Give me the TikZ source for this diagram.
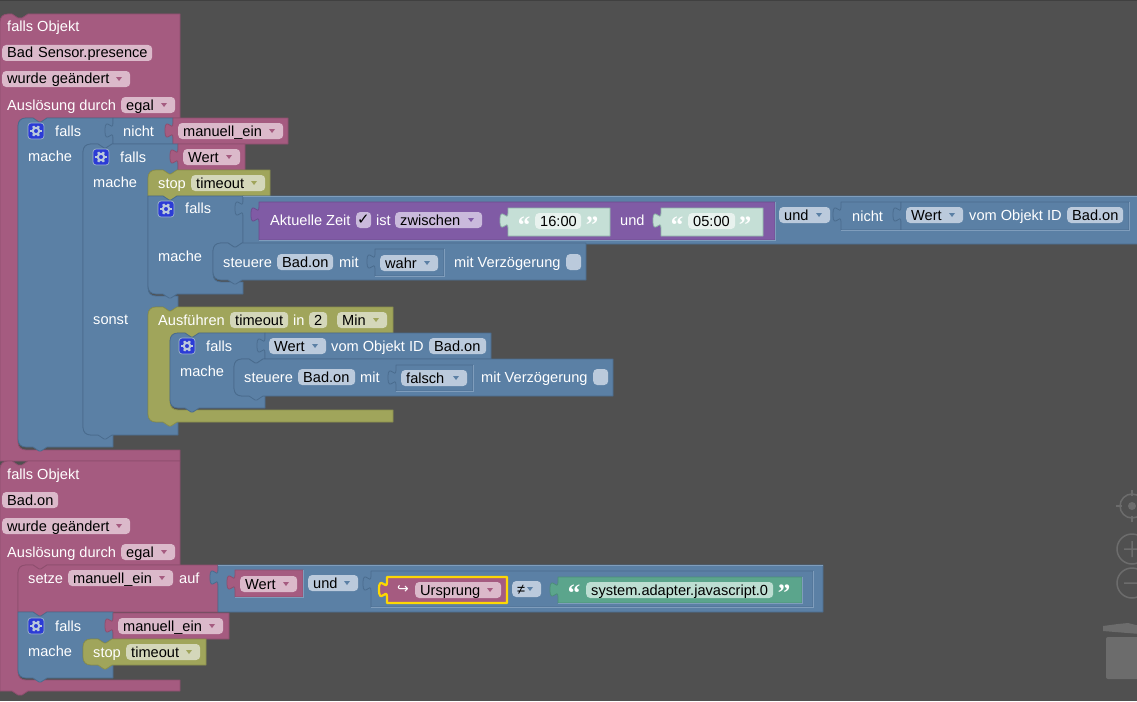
\documentclass[tikz,border=0pt]{standalone}
\usepackage{fontspec}
\setmainfont{Liberation Sans}
\newfontfamily\djv{DejaVu Sans}
\newfontfamily\qfont{Liberation Serif}
\definecolor{bgc}{HTML}{505050}
\definecolor{pb}{HTML}{A55B80}\definecolor{pd}{HTML}{8E4E6E}\definecolor{pf}{HTML}{DBB9CA}
\definecolor{bb}{HTML}{5B80A5}\definecolor{bd}{HTML}{4A6C8E}\definecolor{bf}{HTML}{BBCADC}\definecolor{bl}{HTML}{7F9DBC}
\definecolor{ob}{HTML}{A0A55B}\definecolor{od}{HTML}{8A8F4C}\definecolor{of}{HTML}{D4D7BA}
\definecolor{vb}{HTML}{805BA5}\definecolor{vd}{HTML}{6C4C8E}\definecolor{vf}{HTML}{CABADC}
\definecolor{gb}{HTML}{5BA58C}\definecolor{gd}{HTML}{4C8E78}\definecolor{gf}{HTML}{BDDED2}
\definecolor{sb}{HTML}{C5DFD6}\definecolor{sf}{HTML}{E8F2EE}\definecolor{sd}{HTML}{8FB5A8}
\definecolor{wid}{HTML}{6C6C6C}\definecolor{gearbg}{HTML}{2B3BD6}
\newcount\nn
\def\fs{\fontsize{14.6pt}{16pt}\selectfont}
\tikzset{
  bkp/.style={fill=pb,draw=pd,line width=.8pt,line join=round},
  bkb/.style={fill=bb,draw=bd,line width=.8pt,line join=round},
  bko/.style={fill=ob,draw=od,line width=.8pt,line join=round},
  bkv/.style={fill=vb,draw=vd,line width=.8pt,line join=round},
  bkg/.style={fill=gb,draw=gd,line width=.8pt,line join=round},
  bks/.style={fill=sb,draw=sd,line width=.8pt,line join=round},
  lbl/.style={anchor=base west,inner sep=0pt,text=white,font=\fs},
  pillbox/.style={anchor=west,rounded corners=4pt,inner xsep=5pt,inner ysep=0pt,
     minimum height=16pt,text height=12pt,text depth=2pt,align=left,text=black,font=\fs},
}
\def\PT#1#2{({#1},{#2+8}) .. controls ({#1},{#2+3}) and ({#1+3},{#2}) .. ({#1+8},{#2}) -- ({#1+15},{#2}) -- ({#1+21},{#2+4}) -- ({#1+23},{#2+4}) -- ({#1+29},{#2})}
\def\PTs#1#2{({#1},{#2}) -- ({#1+15},{#2}) -- ({#1+21},{#2+4}) -- ({#1+23},{#2+4}) -- ({#1+29},{#2})}
\def\PB#1#2{-- ({#1+29},{#2}) -- ({#1+23},{#2+4}) -- ({#1+21},{#2+4}) -- ({#1+15},{#2}) -- ({#1+8},{#2}) .. controls ({#1+3},{#2}) and ({#1},{#2-3}) .. ({#1},{#2-8})}
\def\PBs#1#2{-- ({#1+29},{#2}) -- ({#1+23},{#2+4}) -- ({#1+21},{#2+4}) -- ({#1+15},{#2}) -- ({#1},{#2})}
\def\In#1#2#3{-- ({#1+29},{#2}) -- ({#1+23},{#2+4}) -- ({#1+21},{#2+4}) -- ({#1+15},{#2}) -- ({#1+8},{#2}) .. controls ({#1+3},{#2}) and ({#1},{#2+3}) .. ({#1},{#2+8}) -- ({#1},{#3-8}) .. controls ({#1},{#3-3}) and ({#1+3},{#3}) .. ({#1+8},{#3})}
\def\Hat#1{(0,{#1+8}) .. controls (0,{#1+3}) and (3,{#1}) .. (8,{#1}) -- (12,{#1}) -- (18,{#1+4}) -- (22,{#1+4}) -- (28,{#1})}
\def\Vl#1#2#3#4{({#1},{#2}) -- ({#3},{#2}) -- ({#3},{#4}) -- ({#1},{#4}) -- ({#1},{#2+20}) .. controls ({#1},{#2+10}) and ({#1-8},{#2+28}) .. ({#1-8},{#2+12.5}) .. controls ({#1-8},{#2-3}) and ({#1},{#2+15}) .. ({#1},{#2+5}) -- cycle}
% light lower and right rim of a block seated in a blue slot
\def\Sl#1#2#3#4{\draw[bl,line width=.9pt] (#1,#4) -- (#3,#4) -- (#3,#2);}
% label: x, centre y, text
\def\Lb#1#2#3{\global\advance\nn by 1 \node[lbl] (l\the\nn) at ({#1},{#2+5}) {#3};}
% field: x0,x1,yc,text,fill,arrow colour (empty = no arrow)
\def\Fd#1#2#3#4#5#6{\global\advance\nn by 1
  \pgfmathsetmacro\fw{#2-#1}\pgfmathsetmacro\ft{#2-#1-10}
  \node[pillbox,fill=#5,minimum width=\fw pt,text width=\ft pt] (f\the\nn) at ({#1},{#3}) {\mbox{#4}};
  \if\relax\detokenize{#6}\relax\else
  \fill[#6] ({#2-14},{#3-2}) -- ({#2-8},{#3-2}) -- ({#2-11},{#3+2}) -- cycle;\fi}
\def\Gr#1#2{\global\advance\nn by 1
  \node[draw=bf!70!bb,fill=gearbg,rounded corners=3pt,minimum size=16pt,inner sep=0pt,line width=.7pt] (g\the\nn) at ({#1},{#2}) {};
  \foreach \a in {0,60,...,300}{\draw[line width=2.4pt,bf] ($({#1},{#2})+(\a:3pt)$) -- ($({#1},{#2})+(\a:5.6pt)$);}
  \draw[bf,line width=2pt] ({#1},{#2}) circle (3.2pt);}
\def\Qt#1#2#3{\global\advance\nn by 1
  \node[anchor=center,inner sep=0pt,text=white,font=\qfont\bfseries\fontsize{25pt}{25pt}\selectfont] (q\the\nn) at ({#1},{#2+7}) {#3};}
\usetikzlibrary{calc}
\begin{document}
\begin{tikzpicture}[x=1pt,y=-1pt]
\useasboundingbox (0,0) rectangle (1137,701);
\fill[bgc] (0,0) rectangle (1137,701);
\fill[black!75] (0,0) rectangle (1137,1);
% --- first event block
\path[bkp] \Hat{14} -- (180,14) -- (180,118) \In{18}{118}{450} -- (180,450) -- (180,461) -- (0,461) -- cycle;
\Lb{7}{27}{falls Objekt}
\Fd{2}{152}{53}{Bad Sensor.presence}{pf}{}
\Fd{2}{130}{79}{wurde geändert}{pf}{pb}
\Lb{7}{105}{Auslösung durch}
\Fd{121}{175}{105}{egal}{pf}{pb}
% A
\path[bkb] \PT{18}{118} -- (113,118) -- (113,144) \In{83}{144}{435} -- (113,435) -- (113,447) \PB{18}{447} -- cycle;
\Gr{36}{131}
\Lb{55}{131}{falls}
\Lb{28}{156}{mache}
\path[bkb] \Vl{113}{118}{173}{144};
\Lb{123}{131}{nicht}
\path[bkp] \Vl{173}{118}{288}{144};
\Fd{178}{283}{131}{manuell\_ein}{pf}{pb}
% B
\path[bkb] \PT{83}{144} -- (178,144) -- (178,170) \In{148}{170}{296} -- (178,296) -- (178,307) \In{148}{307}{422} -- (178,422) -- (178,435) \PB{83}{435} -- cycle;
\Gr{101}{157}
\Lb{120}{157}{falls}
\Lb{93}{182}{mache}
\Lb{93}{319}{sonst}
\path[bkp] \Vl{178}{144}{245}{170};
\Fd{183}{240}{157}{Wert}{pf}{pb}
% stop
\path[bko] \PT{148}{170} -- (270,170) -- (270,196) \PBs{148}{196} -- cycle;
\Lb{158}{183}{stop}
\Fd{191}{265}{183}{timeout}{of}{ob}
% C
\path[bkb] \PTs{148}{196} -- (243,196) -- (243,243) \In{213}{243}{282} -- (243,282) -- (243,294) \PB{148}{294} -- cycle;
\Gr{166}{209}
\Lb{185}{208}{falls}
\Lb{158}{256}{mache}
\path[bkb] \Vl{243}{196}{1140}{244};
\draw[bl,line width=.9pt] (243,196) -- (1137,196);
\path[bkv] \Vl{259}{202}{775}{240};
\Sl{259}{202}{775}{240}
\Lb{270}{220}{Aktuelle Zeit}
\Fd{356}{371}{220}{}{vf}{}
\node[inner sep=0pt,font=\djv\fontsize{15pt}{15pt}\selectfont,text=black] (chk) at (363.5,220) {✓};
\Lb{376}{220}{ist}
\Fd{395}{482}{220}{zwischen}{vf}{vb}
\path[bks] \Vl{508}{208}{610}{236};
\Qt{524}{218}{“}
\Fd{535}{581}{221}{16:00}{sf}{}
\Qt{592}{218}{”}
\Lb{620}{220}{und}
\path[bks] \Vl{661}{208}{763}{236};
\Qt{677}{218}{“}
\Fd{688}{735}{221}{05:00}{sf}{}
\Qt{745}{218}{”}
\Fd{779}{830}{215}{und}{bf}{bb}
\path[bkb] \Vl{841}{202}{901}{230};
\Lb{852}{216}{nicht}
\path[bkb] \Vl{901}{202}{1129}{230};
\Sl{841}{202}{1129}{230}
\Fd{906}{963}{215}{Wert}{bf}{bb}
\Lb{969}{215}{vom Objekt ID}
\Fd{1067}{1123}{215}{Bad.on}{bf}{}
% steuere 1
\path[bkb] \PT{213}{243} -- (586,243) -- (586,280) \PB{213}{280} -- cycle;
\Lb{223}{262}{steuere}
\Fd{277}{333}{262}{Bad.on}{bf}{}
\Lb{339}{262}{mit}
\path[bkb] \Vl{375}{249}{444}{276};
\Sl{375}{249}{444}{276}
\Fd{380}{438}{263}{wahr}{bf}{bb}
\Lb{454}{262}{mit Verzögerung}
\Fd{566}{581}{262}{}{bf}{}
% Ausfuehren
\path[bko] \PT{148}{307} -- (393,307) -- (393,333) \In{170}{333}{410} -- (393,410) -- (393,422) \PB{148}{422} -- cycle;
\Lb{158}{320}{Ausführen}
\Fd{230}{288}{320}{timeout}{of}{}
\Lb{293}{320}{in}
\Fd{309}{327}{320}{2}{of}{}
\Fd{337}{387}{320}{Min}{of}{ob}
% D
\path[bkb] \PT{170}{333} -- (265,333) -- (265,359) \In{234}{359}{396} -- (265,396) -- (265,408) \PB{170}{408} -- cycle;
\Gr{187}{346}
\Lb{206}{346}{falls}
\Lb{180}{371}{mache}
\path[bkb] \Vl{265}{333}{491}{359};
\Fd{269}{326}{346}{Wert}{bf}{bb}
\Lb{331}{346}{vom Objekt ID}
\Fd{429}{486}{346}{Bad.on}{bf}{}
\path[bkb] \PT{234}{359} -- (613,359) -- (613,396) \PB{234}{396} -- cycle;
\Lb{244}{377}{steuere}
\Fd{298}{355}{377}{Bad.on}{bf}{}
\Lb{360}{377}{mit}
\path[bkb] \Vl{396}{365}{473}{391};
\Sl{396}{365}{473}{391}
\Fd{401}{467}{378}{falsch}{bf}{bb}
\Lb{481}{377}{mit Verzögerung}
\Fd{593}{608}{377}{}{bf}{}
% --- second event block
\path[bkp] \Hat{461} -- (180,461) -- (180,565) \In{18}{565}{680} -- (180,680) -- (180,691) -- (28,691) -- (22,695) -- (18,695) -- (12,691) -- (0,691) -- cycle;
\Lb{7}{474}{falls Objekt}
\Fd{2}{58}{500}{Bad.on}{pf}{}
\Fd{2}{130}{526}{wurde geändert}{pf}{pb}
\Lb{7}{552}{Auslösung durch}
\Fd{121}{175}{552}{egal}{pf}{pb}
% setze
\path[bkp] \PT{18}{565} -- (218,565) -- (218,612) \PBs{18}{612} -- cycle;
\Lb{28}{578}{setze}
\Fd{68}{173}{578}{manuell\_ein}{pf}{pb}
\Lb{179}{578}{auf}
\path[bkb] \Vl{218}{565}{823}{612};
\draw[bl,line width=.9pt] (218,565) -- (823,565);
\path[bkp] \Vl{235}{570}{303}{597};
\Sl{235}{570}{303}{597}
\Fd{240}{297}{584}{Wert}{pf}{pb}
\Fd{308}{358}{583}{und}{bf}{bb}
\path[bkb] \Vl{371}{571}{813}{607};
\Sl{371}{571}{813}{607}
\path[fill=pb,draw=yellow!75!orange,line width=2.2pt,line join=round] \Vl{387}{577}{507}{603};
\node[inner sep=0pt,font=\djv\fontsize{14pt}{14pt}\selectfont,text=white] (hook) at (403,590) {↪};
\Fd{415}{501}{590}{Ursprung}{pf}{pb}
\Fd{512}{541}{589}{≠}{bf}{bb}
\path[bkg] \Vl{558}{577}{802}{603};
\Sl{558}{577}{802}{603}
\Qt{574}{586}{“}
\Fd{586}{773}{590}{system.adapter.javascript.0}{gf}{}
\Qt{784}{586}{”}
% falls 3
\path[bkb] \PTs{18}{612} -- (113,612) -- (113,639) \In{83}{639}{665} -- (113,665) -- (113,678) \PB{18}{678} -- cycle;
\Gr{36}{626}
\Lb{55}{626}{falls}
\Lb{28}{651}{mache}
\path[bkp] \Vl{113}{613}{229}{639};
\Fd{118}{223}{626}{manuell\_ein}{pf}{pb}
\path[bko] \PT{83}{639} -- (206,639) -- (206,665) \PB{83}{665} -- cycle;
\Lb{93}{652}{stop}
\Fd{126}{200}{652}{timeout}{of}{ob}
% --- workspace controls
\draw[wid,line width=1.5pt] (1132,506) circle (12pt);
\fill[wid] (1132,506) circle (4pt);
\draw[wid,line width=1.5pt] (1132,490) -- (1132,496) (1132,516) -- (1132,522) (1116,506) -- (1122,506);
\draw[wid,line width=1.5pt] (1132,549) circle (15pt) (1124,549) -- (1140,549) (1132,541) -- (1132,557);
\draw[wid,line width=1.5pt] (1132,583) circle (15pt) (1124,583) -- (1140,583);
\fill[wid,rounded corners=2pt] (1106,637) rectangle (1145,679);
\fill[wid] (1103,626) -- (1118,624) -- (1128,623) -- (1140,626) -- (1140,634) -- (1103,631) -- cycle;
\end{tikzpicture}
\end{document}
